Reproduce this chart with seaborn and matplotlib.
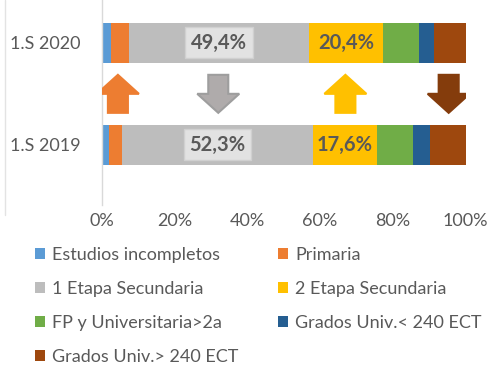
import numpy as np
import pandas as pd
import matplotlib
matplotlib.use("Agg")
import matplotlib.pyplot as plt
from matplotlib.patches import Patch, Polygon
from matplotlib.lines import Line2D
import seaborn as sns

# Education level shares (%) for each half-year period
periods = ["1.S 2020", "1.S 2019"]
levels = ["Estudios incompletos", "Primaria", "1 Etapa Secundaria",
          "2 Etapa Secundaria", "FP y Universitaria>2a",
          "Grados Univ.< 240 ECT", "Grados Univ.> 240 ECT"]
share_2020 = [2.6, 4.9, 49.4, 20.4, 10.0, 3.9, 8.8]
share_2019 = [2.0, 3.7, 52.3, 17.6, 9.9, 4.6, 9.9]
colors = ["#5B9BD5", "#ED7D31", "#BDBDBD", "#FFC000", "#70AD47", "#255E91", "#9E480E"]
tick_labels = ["0%", "20%", "40%", "60%", "80%", "100%"]

# Segments whose change is flagged with an arrow, and the labelled segments
arrow_levels = ["Primaria", "1 Etapa Secundaria", "2 Etapa Secundaria", "Grados Univ.> 240 ECT"]
arrow_colors = {"Primaria": ("#ED7D31", "#ED7D31"),
                "1 Etapa Secundaria": ("#AFABAB", "#9E9E9E"),
                "2 Etapa Secundaria": ("#FFC000", "#FFC000"),
                "Grados Univ.> 240 ECT": ("#843C0C", "#843C0C")}
labelled = ["1 Etapa Secundaria", "2 Etapa Secundaria"]

sns.set_theme(style="white")
plt.rcParams["font.family"] = ["Lato", "DejaVu Sans"]

shares = pd.DataFrame([share_2020, share_2019], index=periods, columns=levels)
cum = shares.cumsum(axis=1)
left = cum - shares

fig = plt.figure(figsize=(4.89, 3.65), dpi=100)
W, H = 489, 365
x0, x1 = 101.7, 465.7
ax = fig.add_axes([x0 / W, 1 - 205 / H, (x1 - x0) / W, 205 / H])

# Stacked bars: draw cumulative totals from the outermost segment inwards
for lvl, col in reversed(list(zip(levels, colors))):
    d = pd.DataFrame({"period": periods, "value": cum[lvl].values})
    sns.barplot(data=d, x="value", y="period", orient="h", order=periods,
                color=col, width=0.39, saturation=1, ax=ax, linewidth=0)

ax.set_xlim(0, 100)
ax.set_ylim(1.59, -0.42)
ax.set_xticks(np.arange(0, 101, 20))
ax.set_xticklabels(tick_labels)
ax.set_xlabel("")
ax.set_ylabel("")
ax.tick_params(axis="both", length=0, labelsize=13, colors="#595959")
ax.tick_params(axis="y", pad=15)
ax.tick_params(axis="x", pad=6)
for s in ["top", "right", "bottom"]:
    ax.spines[s].set_visible(False)
ax.spines["left"].set_color("#D9D9D9")
ax.spines["left"].set_linewidth(1)

# Value labels on the secondary-education segments
for i, p in enumerate(periods):
    for lvl in labelled:
        cx = left.loc[p, lvl] + shares.loc[p, lvl] / 2
        txt = f"{shares.loc[p, lvl]:.1f}%".replace(".", ",")
        if lvl == "1 Etapa Secundaria":
            bbox = dict(boxstyle="square,pad=0.28", fc="#E2E2E2", ec="#D0D0D0", lw=1)
        else:
            bbox = None
        ax.text(cx, i, txt, ha="center", va="center", fontsize=14.5,
                fontweight="bold", color="#595959", bbox=bbox)

# Change arrows between the two bars
px_per_unit_y = 102.0
px_per_pct = (x1 - x0) / 100
for lvl in arrow_levels:
    cx = ((left.loc[periods[0], lvl] + shares.loc[periods[0], lvl] / 2) +
          (left.loc[periods[1], lvl] + shares.loc[periods[1], lvl] / 2)) / 2
    up = shares.loc[periods[0], lvl] > shares.loc[periods[1], lvl]
    half_w = 21 / px_per_pct
    half_s = 10 / px_per_pct
    y_top, y_bot = (75 - 43) / px_per_unit_y, (113 - 43) / px_per_unit_y
    head = 19 / px_per_unit_y
    if up:
        yb = y_top + head
        pts = [(cx, y_top), (cx + half_w, yb), (cx + half_s, yb), (cx + half_s, y_bot),
               (cx - half_s, y_bot), (cx - half_s, yb), (cx - half_w, yb)]
    else:
        yb = y_bot - head
        pts = [(cx, y_bot), (cx + half_w, yb), (cx + half_s, yb), (cx + half_s, y_top),
               (cx - half_s, y_top), (cx - half_s, yb), (cx - half_w, yb)]
    fc, ec = arrow_colors[lvl]
    ax.add_patch(Polygon(pts, closed=True, fc=fc, ec=ec, lw=1.5, zorder=5))

# Chart-area border on the left
fig.add_artist(Line2D([5 / W, 5 / W], [1, 1 - 215 / H], color="#E3E3E3", lw=1))

# Legend (two columns, filled row by row)
handles = [Patch(fc=c, ec="none") for c in colors]
order = [0, 2, 4, 6, 1, 3, 5]
fig.legend([handles[i] for i in order], [levels[i] for i in order],
           ncol=2, loc="upper left", bbox_to_anchor=(35 / W, 1 - 247 / H),
           frameon=False, fontsize=13, labelcolor="#595959",
           handlelength=0.55, handleheight=0.55, handletextpad=0.4,
           labelspacing=1.0, columnspacing=2.2, borderpad=0, borderaxespad=0)

fig.savefig("out.png", dpi=100)
